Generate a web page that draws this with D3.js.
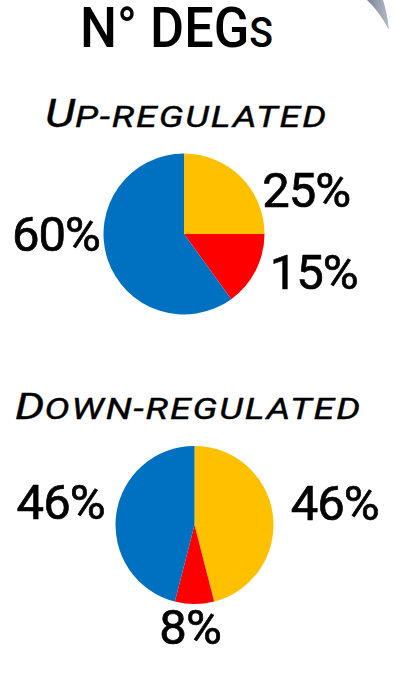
<!DOCTYPE html>
<html>
<head>
<meta charset="utf-8">
<script src="https://cdn.jsdelivr.net/npm/d3@7"></script>
<style>
  html, body { margin: 0; padding: 0; background: #fff; }
  svg { display: block; font-family: Roboto, "DejaVu Sans", sans-serif; }
</style>
</head>
<body>
<div id="chart"></div>
<script>
// slice order follows the picture: yellow, red, blue (clockwise from 12 o'clock)
const categories = ['Group A', 'Group B', 'Group C'];
const upValues = [25, 15, 60];
const downValues = [46, 8, 46];
const panelTitles = ['Up-regulated', 'Down-regulated'];
const mainTitle = 'N° DEGs';

const width = 396;
const height = 681;

const color = d3.scaleOrdinal()
    .domain(categories)
    .range(['#FFC000', '#FF0000', '#0070C0']);

// layout of each panel (centre, radius, where labels sit in polar coords)
const panels = [
  { values: upValues, title: panelTitles[0], titleX: 45, titleY: 127, capSize: 38, scSize: 30, titleW: 283,
    cx: 184, cy: 234, r: 80.5,
    labels: [{ a: 70, d: 130 }, { a: 106, d: 135 }, { a: 270, d: 128 }] },
  { values: downValues, title: panelTitles[1], titleX: 15, titleY: 419, capSize: 37, scSize: 30, titleW: 347,
    cx: 194.5, cy: 525, r: 79,
    labels: [{ a: 81, d: 142 }, { a: 182.5, d: 102 }, { a: 280, d: 136 }] }
];

const svg = d3.select('#chart').append('svg')
    .attr('width', width)
    .attr('height', height);

// grey shape peeking in at top right
const grad = svg.append('defs').append('linearGradient')
    .attr('id', 'greyGrad')
    .attr('x1', '0%').attr('x2', '100%');
grad.append('stop').attr('offset', '0%').attr('stop-color', '#7a8499');
grad.append('stop').attr('offset', '100%').attr('stop-color', '#b4bac8');
svg.append('path')
    .attr('d', 'M367,0 L383,0 Q387,12 389,30 Q379,11 367,0 Z')
    .attr('fill', 'url(#greyGrad)');

const title = svg.append('text')
    .attr('x', 80)
    .attr('y', 47)
    .attr('textLength', 193)
    .attr('lengthAdjust', 'spacingAndGlyphs')
    .style('font-size', '56px')
    .style('font-weight', 500);
title.append('tspan').text(mainTitle.slice(0, -1));
title.append('tspan').style('font-size', '42px').text(mainTitle.slice(-1).toUpperCase());

const pie = d3.pie().sort(null).value(d => d);

panels.forEach(p => {
  // small caps built by hand: first letter full size, the rest smaller capitals
  const t = svg.append('text')
      .attr('x', p.titleX)
      .attr('y', p.titleY)
      .attr('textLength', p.titleW)
      .attr('lengthAdjust', 'spacingAndGlyphs')
      .style('font-style', 'italic')
      .style('stroke', '#000')
      .style('stroke-width', 0.4);
  t.append('tspan').style('font-size', p.capSize + 'px').text(p.title[0]);
  t.append('tspan').style('font-size', p.scSize + 'px').style('letter-spacing', '1.5px')
      .text(p.title.slice(1).toUpperCase());

  const arc = d3.arc().innerRadius(0).outerRadius(p.r);
  const g = svg.append('g').attr('transform', `translate(${p.cx},${p.cy})`);
  const arcs = pie(p.values);

  g.selectAll('path')
    .data(arcs)
    .enter().append('path')
      .attr('d', arc)
      .attr('fill', (d, i) => color(categories[i]));

  g.selectAll('text')
    .data(arcs)
    .enter().append('text')
      .attr('x', (d, i) => Math.sin(p.labels[i].a * Math.PI / 180) * p.labels[i].d)
      .attr('y', (d, i) => -Math.cos(p.labels[i].a * Math.PI / 180) * p.labels[i].d)
      .attr('dy', '0.355em')
      .attr('text-anchor', 'middle')
      .style('font-size', '49px')
      .style('font-weight', 400)
      .style('stroke', '#000')
      .style('stroke-width', 0.7)
      .style('letter-spacing', '-1px')
      .text(d => d.value + '%');
});

// next heading, only the top edge shows at the bottom of the frame
svg.append('text')
    .attr('x', 210)
    .attr('y', 729)
    .attr('text-anchor', 'middle')
    .style('font-size', '56px')
    .style('font-weight', 500)
    .text('N° DE NTs');
</script>
</body>
</html>
